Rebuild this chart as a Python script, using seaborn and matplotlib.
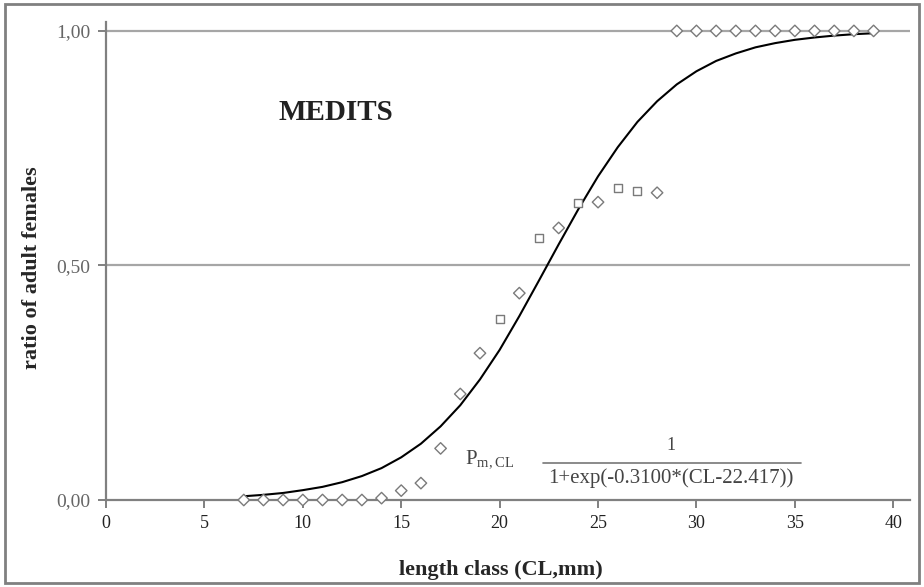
import matplotlib
matplotlib.use("Agg")
import matplotlib.pyplot as plt
import seaborn as sns
import pandas as pd
from matplotlib.patches import Rectangle
from matplotlib.lines import Line2D

# observed proportions of adult females by length class
length_obs = list(range(7, 40))
ratio_obs = [0.0, 0.0, 0.0, 0.0, 0.0, 0.0, 0.0, 0.004, 0.02, 0.036, 0.11,
             0.226, 0.313, 0.386, 0.441, 0.559, 0.58, 0.633, 0.635, 0.665,
             0.659, 0.655,
             1.0, 1.0, 1.0, 1.0, 1.0, 1.0, 1.0, 1.0, 1.0, 1.0, 1.0]
marker_kind = ["D"] * 13 + ["s", "D", "s", "D", "s", "D", "s", "s", "D"] + ["D"] * 11

# fitted ogive
length_fit = list(range(7, 40))
ratio_fit = [0.008, 0.011, 0.015, 0.021, 0.028, 0.038, 0.051, 0.068, 0.091,
             0.12, 0.157, 0.202, 0.257, 0.32, 0.392, 0.468, 0.545, 0.62,
             0.69, 0.752, 0.806, 0.85, 0.886, 0.914, 0.936, 0.952, 0.965,
             0.974, 0.981, 0.986, 0.99, 0.993, 0.995]

x_ticks = [0, 5, 10, 15, 20, 25, 30, 35, 40]
y_ticks = [0.0, 0.5, 1.0]
y_tick_labels = ["0,00", "0,50", "1,00"]

sns.set_style("white")
plt.rcParams["font.family"] = ["Liberation Serif", "DejaVu Serif"]
plt.rcParams["mathtext.fontset"] = "custom"
plt.rcParams["mathtext.rm"] = "Liberation Serif"

fig = plt.figure(figsize=(9.24, 5.87), dpi=100)
ax = fig.add_axes([106 / 924, 1 - 500 / 587, (910 - 106) / 924, (500 - 22) / 587])

obs = pd.DataFrame({"length": length_obs, "ratio": ratio_obs, "kind": marker_kind})
fit = pd.DataFrame({"length": length_fit, "ratio": ratio_fit})

for yv in [0.5, 1.0]:
    ax.axhline(yv, color="#a6a6a6", lw=1.6, zorder=0)

sns.lineplot(data=fit, x="length", y="ratio", ax=ax, color="black", lw=1.5, zorder=2)
sns.scatterplot(data=obs, x="length", y="ratio", style="kind",
                markers={"D": "D", "s": "s"}, ax=ax, s=34,
                facecolor="white", edgecolor="#7a7a7a", linewidth=1.0,
                legend=False, zorder=3, clip_on=False)

ax.set_xlim(0, 40.85)
ax.set_ylim(0, 1.019)
ax.set_xticks(x_ticks)
ax.set_xticklabels([str(t) for t in x_ticks])
ax.set_yticks(y_ticks)
ax.set_yticklabels(y_tick_labels)

for side in ["top", "right"]:
    ax.spines[side].set_visible(False)
for side in ["left", "bottom"]:
    ax.spines[side].set_color("#808080")
    ax.spines[side].set_linewidth(1.6)
    ax.spines[side].set_zorder(1)
ax.tick_params(axis="x", direction="out", length=6, width=1.4, color="#808080",
               labelsize=13, labelcolor="#222222", pad=5, bottom=True)
ax.tick_params(axis="y", direction="out", length=6, width=1.4, color="#808080",
               labelsize=14, labelcolor="#666666", pad=5, left=True)

ax.set_xlabel("length class (CL,mm)", fontsize=16, fontweight="bold")
ax.set_ylabel("ratio of adult females", fontsize=16, fontweight="bold")
ax.xaxis.set_label_coords(0.491, -0.126)
ax.yaxis.set_label_coords(-0.080, 0.485)

ax.text(11.7, 0.827, "MEDITS", fontsize=21, fontweight="bold", ha="center", va="center",
        color="#222222")
ax.text(19.5, 0.088, r"$\mathregular{P_{m,CL}}$", fontsize=15, ha="center", va="center",
        color="#444444")
ax.add_line(Line2D([22.2, 35.3], [0.079, 0.079], color="#777777", lw=1.2))
ax.text(28.7, 0.116, "1", fontsize=13, ha="center", va="center", color="#444444")
ax.text(28.7, 0.046, "1+exp(-0.3100*(CL-22.417))", fontsize=15, ha="center", va="center",
        color="#444444")

fig.patches.append(Rectangle((5 / 924, 4 / 587), 914 / 924, 579 / 587,
                             transform=fig.transFigure, fill=False,
                             edgecolor="#808080", lw=2))

fig.savefig("out.png", dpi=100)
